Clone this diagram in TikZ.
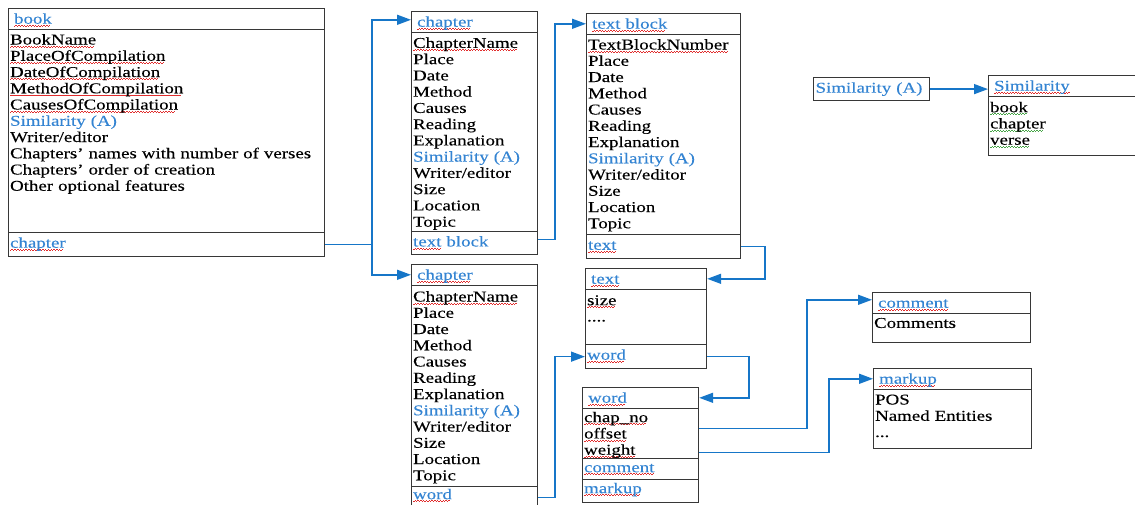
\documentclass[tikz,border=0pt]{standalone}
\usepackage{fontspec}
\setmainfont[FakeStretch=1.26,FakeBold=0.2]{Liberation Serif}
\usetikzlibrary{shapes.multipart,arrows.meta,calc}

\definecolor{ulblue}{RGB}{52,132,210}
\definecolor{linkblue}{RGB}{22,118,200}
\definecolor{boxgray}{RGB}{55,55,55}
\definecolor{wavered}{RGB}{225,45,45}
\definecolor{wavegreen}{RGB}{70,165,70}

\newsavebox{\wavebox}
\newcommand{\wavy}[2][wavered]{%
  \sbox{\wavebox}{#2}%
  \leavevmode\rlap{\raisebox{-2.4pt}[0pt][0pt]{\hbox to\wd\wavebox{\color{#1}\leaders\hbox{\rule[-0.35pt]{1.4pt}{0.7pt}\rule[0.45pt]{1.4pt}{0.7pt}}\hfill}}}%
  \usebox{\wavebox}}
\newcommand{\rowstrut}[2]{\rule[-#2pt]{0pt}{\dimexpr #1pt + #2pt\relax}}
\newcommand{\headrow}[1]{\rowstrut{14.5}{5.3}\hspace*{4pt}\textcolor{ulblue}{#1}}
\newcommand{\footrow}[1]{\rowstrut{14.5}{7.8}\textcolor{ulblue}{#1}}
\newcommand{\topgap}[1]{\rule{0pt}{#1pt}}
\newcommand{\botgap}[1]{\rule[-#1pt]{0pt}{#1pt}}

\begin{document}
\begin{tikzpicture}[x=1pt, y=-1pt,
    cls/.style={rectangle split, rectangle split parts=#1, draw=boxgray, line width=1.2pt,
      anchor=north west, align=left, inner xsep=1.5pt, inner ysep=0pt,
      font=\fontsize{15pt}{16.25pt}\selectfont},
    cls/.default=3,
    link/.style={draw=linkblue, line width=1.5pt, -{Triangle[length=14pt,width=10pt]}}]
    \useasboundingbox (0,0) rectangle (1135,504);

    % class boxes
    \node (book) [cls, text width=313pt] at (8,8) {\headrow{\wavy{book}}
      \nodepart{two}\topgap{14.3}\wavy{BookName}\\\wavy{PlaceOfCompilation}\\\wavy{DateOfCompilation}\\
        \wavy{MethodOfCompilation}\\\wavy{CausesOfCompilation}\\\textcolor{ulblue}{Similarity (A)}\\
        Writer/editor\\Chapters' names with number of verses\\Chapters' order of creation\\
        Other optional features\botgap{41.25}
      \nodepart{three}\footrow{\wavy{chapter}}};
    \node (chap) [cls, text width=123pt] at (411,11) {\headrow{\wavy{chapter}}
      \nodepart{two}\topgap{14.7}\wavy{ChapterName}\\Place\\Date\\Method\\Causes\\Reading\\Explanation\\
        \textcolor{ulblue}{Similarity (A)}\\Writer/editor\\Size\\Location\\Topic\botgap{4.1}
      \nodepart{three}\footrow{\wavy{text} block}};
    \node (chapw) [cls, text width=123pt] at (411,264) {\headrow{\wavy{chapter}}
      \nodepart{two}\topgap{15.3}\wavy{ChapterName}\\Place\\Date\\Method\\Causes\\Reading\\Explanation\\
        \textcolor{ulblue}{Similarity (A)}\\Writer/editor\\Size\\Location\\Topic\botgap{5.75}
      \nodepart{three}\rowstrut{12}{7.8}\textcolor{ulblue}{\wavy{word}}};
    \node (tblk) [cls, text width=151pt] at (586,13) {\headrow{\wavy{text block}}
      \nodepart{two}\topgap{14.3}\wavy{TextBlockNumber}\\Place\\Date\\Method\\Causes\\Reading\\Explanation\\
        \textcolor{ulblue}{Similarity (A)}\\Writer/editor\\Size\\Location\\Topic\botgap{5.8}
      \nodepart{three}\footrow{\wavy{text}}};
    \node (txt) [cls, text width=118pt] at (585,268) {\headrow{\wavy{text}}
      \nodepart{two}\topgap{15}\wavy{size}\\....\botgap{22.55}
      \nodepart{three}\footrow{\wavy{word}}};
    \node (wrd) [cls=4, text width=113pt] at (582,387) {\headrow{\wavy{word}}
      \nodepart{two}\topgap{13}\wavy{chap\_no}\\\wavy{offset}\\\wavy{weight}\botgap{3.3}
      \nodepart{three}\rowstrut{13}{6.8}\textcolor{ulblue}{\wavy{comment}}
      \nodepart{four}\rowstrut{13}{8.8}\textcolor{ulblue}{\wavy{markup}}};
    \node (cmt) [cls=2, text width=155pt] at (872,292) {\headrow{\wavy{comment}}
      \nodepart{two}\topgap{13.7}Comments\botgap{14.1}};
    \node (mkp) [cls=2, text width=155pt] at (873,368) {\headrow{\wavy{markup}}
      \nodepart{two}\topgap{14.3}POS\\Named Entities\\...\botgap{11}};
    \node (sim) [cls=2, text width=167pt] at (988,75) {\headrow{\wavy{Similarity}}
      \nodepart{two}\topgap{15}\wavy[wavegreen]{book}\\\wavy[wavegreen]{chapter}\\\wavy[wavegreen]{verse}\botgap{10.3}};
    \node (simA) [draw=boxgray, line width=1.2pt, anchor=north west, minimum width=116pt, minimum height=23pt,
      text width=112pt, inner xsep=1.5pt, align=left, text=ulblue,
      font=\fontsize{15pt}{16.25pt}\selectfont] at (813,77) {Similarity (A)};

    % connection points
    \coordinate (bkOut) at ($(book.two split east)!.5!(book.south east)$);
    \coordinate (chIn) at ([yshift=2pt]$(chap.north west)!.5!(chap.text split west)$);
    \coordinate (chwIn) at ($(chapw.north west)!.5!(chapw.text split west)$);
    \coordinate (c1Out) at ([yshift=4pt]$(chap.two split east)!.5!(chap.south east)$);
    \coordinate (c2Out) at ($(chapw.two split east)!.5!(chapw.south east)$);
    \coordinate (tbIn) at ($(tblk.north west)!.5!(tblk.text split west)$);
    \coordinate (tbOut) at ($(tblk.two split east)!.5!(tblk.south east)$);
    \coordinate (txIn) at ($(txt.north east)!.5!(txt.text split east)$);
    \coordinate (txWdIn) at ($(txt.two split west)!.5!(txt.south west)$);
    \coordinate (txOut) at ($(txt.two split east)!.5!(txt.south east)$);
    \coordinate (wdIn) at ($(wrd.north east)!.5!(wrd.text split east)$);
    \coordinate (wdOff) at ([yshift=-20pt]wrd.text split east);
    \coordinate (wdWt) at ([yshift=-44pt]wrd.text split east);
    \coordinate (cmIn) at ([yshift=3pt]$(cmt.north west)!.5!(cmt.text split west)$);
    \coordinate (mkIn) at ($(mkp.north west)!.5!(mkp.text split west)$);

    % links
    \draw[link] (bkOut) -- ++(47,0) coordinate (fork) |- (chIn);
    \draw[link] (fork) |- (chwIn);
    \draw[link] (c1Out) -- ++(17,0) |- (tbIn);
    \draw[link] (tbOut) -- ++(24,0) |- (txIn);
    \draw[link] (c2Out) -- ++(17,0) |- (txWdIn);
    \draw[link] (txOut) -- ++(42,0) |- (wdIn);
    \draw[link] (wdOff) -- ++(108,0) |- (cmIn);
    \draw[link] (wdWt) -- ++(130,0) |- (mkIn);
    \draw[link] (simA.east) -- (simA.east -| sim.west);
\end{tikzpicture}
\end{document}
